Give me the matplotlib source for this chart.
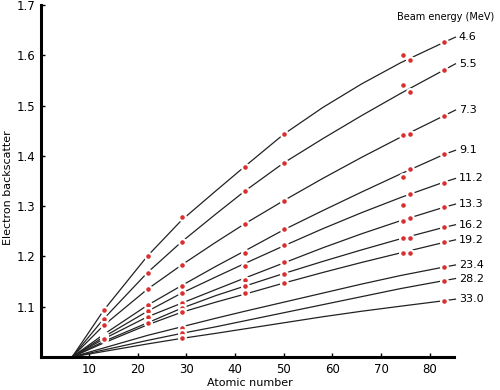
import matplotlib
matplotlib.use("Agg")
import matplotlib.pyplot as plt

# beam energies (MeV), one curve each
energias = ["4.6", "5.5", "7.3", "9.1", "11.2", "13.3", "16.2", "19.2", "23.4", "28.2", "33.0"]

# points
z_linha = [6.5, 13, 22, 29, 36, 42, 50, 58, 66, 74, 83, 85.3]
linhas = [
    [1.0, 1.093, 1.201, 1.272, 1.330, 1.379, 1.443, 1.496, 1.543, 1.585, 1.626, 1.636],
    [1.0, 1.076, 1.168, 1.229, 1.284, 1.330, 1.386, 1.434, 1.480, 1.524, 1.571, 1.583],
    [1.0, 1.063, 1.135, 1.183, 1.228, 1.265, 1.311, 1.355, 1.397, 1.437, 1.480, 1.491],
    [1.0, 1.045, 1.103, 1.142, 1.180, 1.211, 1.253, 1.291, 1.328, 1.364, 1.403, 1.411],
    [1.0, 1.040, 1.091, 1.127, 1.159, 1.186, 1.221, 1.255, 1.287, 1.317, 1.348, 1.355],
    [1.0, 1.036, 1.080, 1.107, 1.134, 1.157, 1.187, 1.217, 1.245, 1.271, 1.298, 1.304],
    [1.0, 1.031, 1.068, 1.097, 1.122, 1.141, 1.166, 1.190, 1.213, 1.235, 1.258, 1.263],
    [1.0, 1.028, 1.064, 1.089, 1.109, 1.125, 1.147, 1.168, 1.188, 1.207, 1.228, 1.233],
    [1.0, 1.018, 1.043, 1.060, 1.077, 1.091, 1.109, 1.127, 1.145, 1.162, 1.179, 1.183],
    [1.0, 1.014, 1.033, 1.047, 1.060, 1.072, 1.088, 1.104, 1.120, 1.136, 1.152, 1.156],
    [1.0, 1.011, 1.026, 1.037, 1.047, 1.056, 1.068, 1.080, 1.091, 1.101, 1.112, 1.115],
]

# measured points (None = no point)
z_pontos = [13, 22, 29, 42, 50, 74.5, 76, 83]
pontos = [
    [1.093, 1.201, 1.278, 1.377, 1.443, 1.600, 1.590, 1.626],
    [1.076, 1.168, 1.229, 1.330, 1.386, 1.541, 1.527, 1.571],
    [1.063, 1.135, 1.183, 1.265, 1.311, 1.441, 1.443, 1.480],
    [1.043, 1.103, 1.142, 1.206, 1.254, 1.358, 1.373, 1.403],
    [1.039, 1.091, 1.127, 1.181, 1.223, 1.302, 1.325, 1.347],
    [1.035, 1.080, 1.107, 1.154, 1.189, 1.270, 1.277, 1.298],
    [None, 1.068, 1.097, 1.141, 1.166, 1.237, 1.237, 1.258],
    [None, None, 1.089, 1.128, 1.148, 1.206, 1.206, 1.228],
    [None, None, 1.058, None, None, None, None, 1.179],
    [None, None, 1.047, None, None, None, None, 1.152],
    [None, None, 1.037, None, None, None, None, 1.112],
]

fig = plt.figure(figsize=(5.0, 3.9), dpi=100)
ax = fig.add_axes([0.081, 0.0846, 0.827, 0.9026])

for e, ys in zip(energias, linhas):
    ax.plot(z_linha, ys, color="#222222", lw=0.9, clip_on=False, zorder=2)
    ax.text(86.0, ys[-1], e, fontsize=8, ha="left", va="center")

for ys in pontos:
    zz = [z for z, y in zip(z_pontos, ys) if y is not None]
    vv = [y for y in ys if y is not None]
    ax.plot(zz, vv, "o", ms=4.9, mfc="#d9302f", mec="white", mew=1.6,
            clip_on=False, zorder=3)

ax.text(73.2, 1.676, "Beam energy (MeV)", fontsize=7, ha="left", va="center")

ax.set_xlim(0, 85)
ax.set_ylim(1.0, 1.7)
ax.set_xticks(range(10, 90, 10))
ax.set_yticks([1.1, 1.2, 1.3, 1.4, 1.5, 1.6, 1.7])
ax.set_yticklabels(["1.1", "1.2", "1.3", "1.4", "1.5", "1.6", "1.7"])
ax.tick_params(direction="in", length=3, width=1, labelsize=8.5, pad=4)

ax.spines["top"].set_visible(False)
ax.spines["right"].set_visible(False)
ax.spines["left"].set_linewidth(2.2)
ax.spines["bottom"].set_linewidth(2.2)

fig.text(8 / 500, 1 - 188 / 390, "Electron backscatter", rotation=90,
         ha="center", va="center", fontsize=8)
fig.text(250 / 500, 1 - 383 / 390, "Atomic number", ha="center", va="center",
         fontsize=8)

fig.savefig("out.png", dpi=100)
